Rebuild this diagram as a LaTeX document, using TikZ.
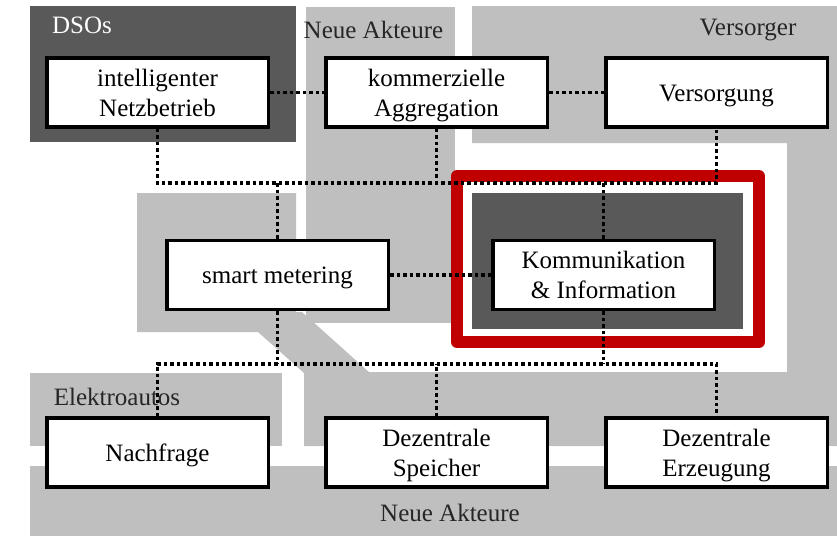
\documentclass[tikz,border=0pt]{standalone}
\usepackage{fontspec}
\setmainfont{Liberation Serif}
\usetikzlibrary{positioning}
\definecolor{lgray}{HTML}{BFBFBF}
\definecolor{dgray}{HTML}{595959}
\definecolor{kred}{HTML}{C00000}
\tikzset{blk/.style={draw, line width=3.5pt, fill=white, minimum width=221.5pt, minimum height=69pt, align=center, inner sep=2pt},
  oneline/.style={text height=21pt, text depth=4pt},
  twoline/.style={text depth=0pt},
  link/.style={line width=3.5pt, dash pattern=on 3.5pt off 3pt},
  lbl/.style={anchor=base, text=black!85}}

\begin{document}
\begin{tikzpicture}[x=1pt, y=-1pt, font=\fontsize{25}{30}\selectfont]
  \useasboundingbox (0,0) rectangle (837,536);
  % actor areas
  \fill[dgray] (30,6) rectangle (296,142);
  \fill[lgray] (306,7) rectangle (455,323);
  \fill[lgray] (472,6) -- (837,6) -- (837,446) -- (304,446) -- (304,372) -- (787,372) -- (787,143) -- (472,143) -- cycle;
  \fill[lgray] (137,193) -- (296,193) -- (296,312) -- (302,312) -- (370,373) -- (304,373) -- (258,332) -- (137,332) -- cycle;
  \fill[lgray] (30,373) rectangle (282,446);
  \fill[lgray] (30,466) rectangle (837,536);
  % highlight
  \draw[kred, line width=12pt, line join=round] (457,176) rectangle (759,342);
  \fill[dgray] (472,193) rectangle (743,329);
  % area labels
  \node[lbl, text=white] (dso) at (82,33) {DSOs};
  \node[lbl] (akt1) at (373.5,38) {Neue Akteure};
  \node[lbl] (vers) at (748,35) {Versorger};
  \node[lbl] (eauto) at (117,405) {Elektroautos};
  \node[lbl] (akt2) at (450,521) {Neue Akteure};
  % functions
  \node[blk, twoline] (netz) at (157.5,92.5) {intelligenter\\Netzbetrieb};
  \node[blk, twoline, right=54pt of netz] (aggr) {kommerzielle\\Aggregation};
  \node[blk, oneline, right=55pt of aggr] (versorg) {Versorgung};
  \node[blk, oneline] (smart) at (277.5,275) {smart metering};
  \node[blk, twoline] (kom) at (603.5,275) {Kommunikation\\\& Information};
  \node[blk, oneline] (nachfr) at (157.5,452.5) {Nachfrage};
  \node[blk, twoline, right=54pt of nachfr] (speicher) {Dezentrale\\Speicher};
  \node[blk, twoline, right=55pt of speicher] (erzeug) {Dezentrale\\Erzeugung};
  % links
  \coordinate (busA) at (0,183);
  \coordinate (busB) at (0,364);
  \draw[link] (netz.east) -- (aggr.west);
  \draw[link] (aggr.east) -- (versorg.west);
  \draw[link] (netz.south) |- (busA -| versorg.south) -- (versorg.south);
  \draw[link] (aggr.south) -- (aggr.south |- busA);
  \draw[link] (smart.north) -- (smart.north |- busA);
  \draw[link] (kom.north) -- (kom.north |- busA);
  \draw[link] (smart.east) -- (kom.west);
  \draw[link] (nachfr.north) |- (busB -| erzeug.north) -- (erzeug.north);
  \draw[link] (smart.south) -- (smart.south |- busB);
  \draw[link] (kom.south) -- (kom.south |- busB);
  \draw[link] (speicher.north) -- (speicher.north |- busB);
\end{tikzpicture}
\end{document}
